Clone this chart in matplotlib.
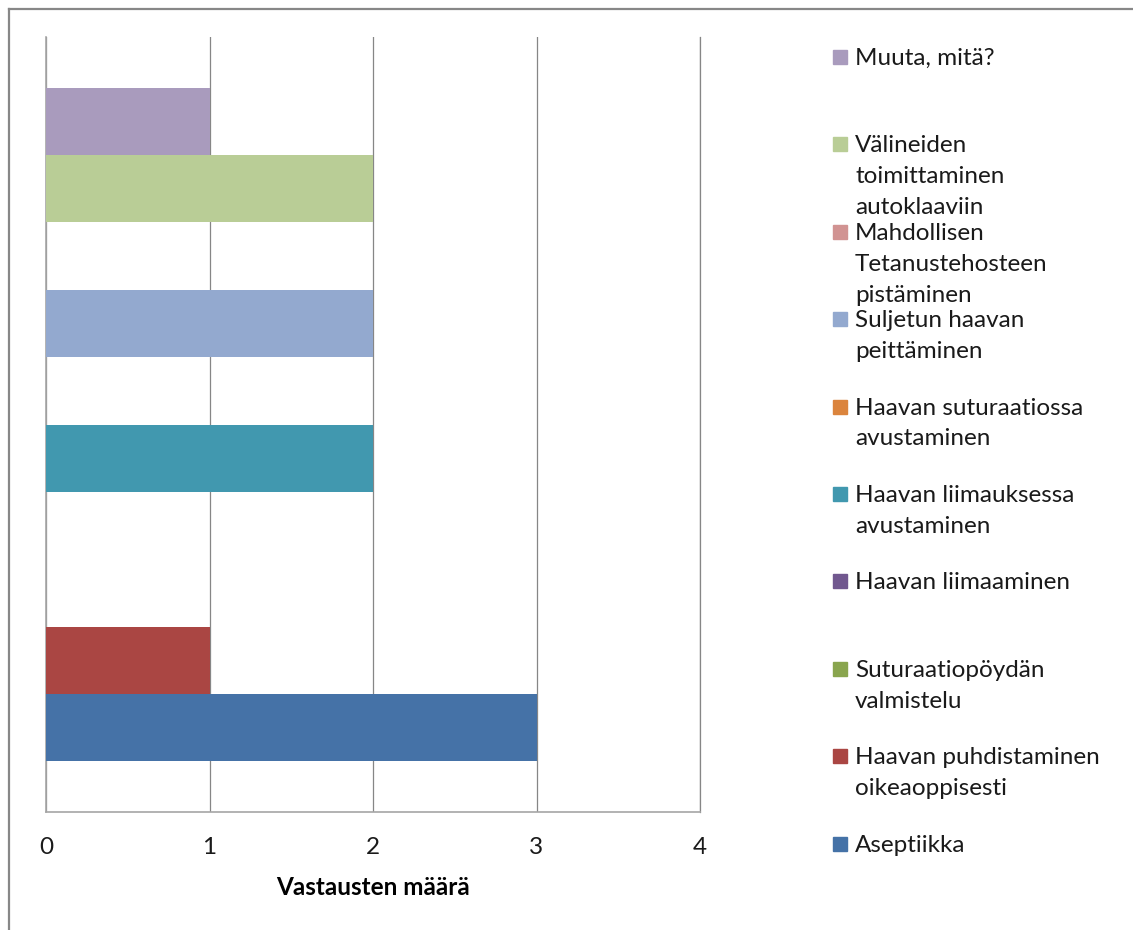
import matplotlib.pyplot as plt
from matplotlib.patches import Rectangle
from matplotlib.lines import Line2D

# Answers per task, listed bottom to top
tasks = ["Aseptiikka",
         "Haavan puhdistaminen\noikeaoppisesti",
         "Suturaatiopöydän\nvalmistelu",
         "Haavan liimaaminen",
         "Haavan liimauksessa\navustaminen",
         "Haavan suturaatiossa\navustaminen",
         "Suljetun haavan\npeittäminen",
         "Mahdollisen\nTetanustehosteen\npistäminen",
         "Välineiden\ntoimittaminen\nautoklaaviin",
         "Muuta, mitä?"]
counts = [3, 1, 0, 0, 2, 0, 2, 0, 2, 1]
colors = ["#4572A7", "#AA4643", "#89A54E", "#71588F", "#4198AF",
          "#DB843D", "#93A9CF", "#D19392", "#B9CD96", "#A99BBD"]
xticks = [0, 1, 2, 3, 4]

plt.rcParams['font.family'] = ['Lato', 'DejaVu Sans']
FS = 17.5

W, H = 1133, 930
fig = plt.figure(figsize=(W / 100, H / 100), dpi=100)
ax = fig.add_axes([46 / W, 1 - 812 / H, (700 - 46) / W, (812 - 37) / H])

for i, (v, c) in enumerate(zip(counts, colors)):
    ax.barh(i, v, height=1.0, color=c, zorder=3)

ax.set_xlim(0, 4)
ax.set_ylim(-1.25, 10.25)
ax.set_xticks(xticks)
ax.set_yticks([])
ax.tick_params(axis='x', length=0, pad=18, labelsize=FS, colors='#1a1a1a')
ax.xaxis.grid(True, color='#868686', linewidth=0.9, zorder=1)
ax.spines['top'].set_visible(False)
ax.spines['right'].set_color('#868686')
ax.spines['right'].set_linewidth(0.9)
for side in ['left', 'bottom']:
    ax.spines[side].set_color('#a6a6a6')
    ax.spines[side].set_linewidth(1.2)
ax.set_xlabel("Vastausten määrä", fontsize=FS, fontweight='bold', labelpad=13)

# Legend drawn by hand, top entry first
y0, step = 57, 87.4
for k, i in enumerate(range(len(tasks) - 1, -1, -1)):
    yc = y0 + k * step
    fig.patches.append(Rectangle((833 / W, 1 - (yc + 7) / H), 14 / W, 14 / H,
                                 transform=fig.transFigure, color=colors[i]))
    fig.text(855 / W, 1 - (yc - 9) / H, tasks[i], fontsize=FS, va='top',
             ha='left', color='#1a1a1a', linespacing=1.58)

# Outer frame edges
fig.add_artist(Line2D([9 / W, 9 / W], [0, 1 - 9 / H], color='#878787', linewidth=1.6))
fig.add_artist(Line2D([9 / W, 1], [1 - 9 / H, 1 - 9 / H], color='#878787', linewidth=1.6))

fig.savefig("out.png", dpi=100)
